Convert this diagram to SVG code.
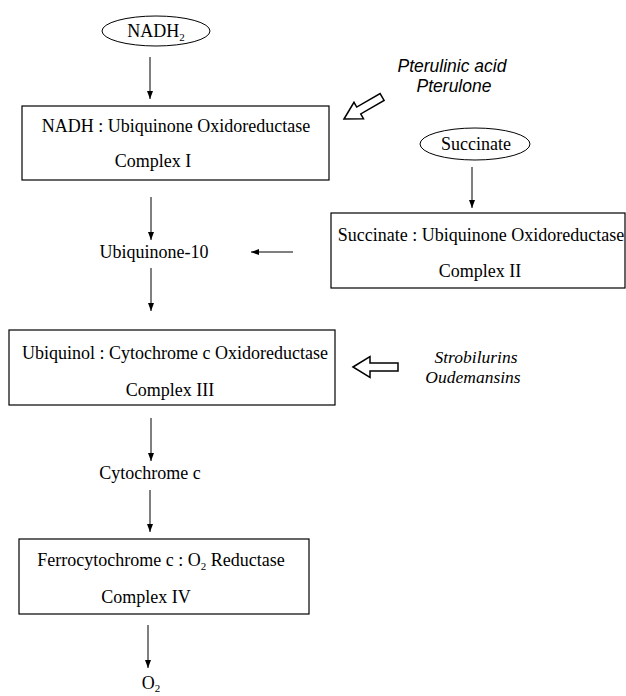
<svg xmlns="http://www.w3.org/2000/svg" width="626" height="696" viewBox="0 0 626 696">
<style>
  .bg { fill: #ffffff; }
  .box { fill: none; stroke: #000; stroke-width: 1.2; }
  .ell { fill: none; stroke: #000; stroke-width: 1; }
  .t { font-family: "Liberation Serif", "Times New Roman", serif; font-size: 18px; fill: #000; text-anchor: middle; }
  .ti { font-family: "Liberation Serif", "Times New Roman", serif; font-size: 17.5px; font-style: italic; fill: #000; text-anchor: middle; }
  .si { font-family: "Liberation Sans", Arial, sans-serif; font-size: 17.5px; font-style: italic; fill: #000; text-anchor: middle; }
  .sub { font-size: 11px; }
  .c { stroke: #000; stroke-width: 1; fill: none; marker-end: url(#ah); }
  .hollow { fill: #fff; stroke: #000; stroke-width: 1.5; stroke-linejoin: miter; }
</style>
<defs>
  <marker id="ah" markerWidth="8" markerHeight="6" refX="8" refY="3" orient="auto" markerUnits="userSpaceOnUse">
    <path d="M0,0 L8,3 L0,6 z" fill="#000"/>
  </marker>
</defs>
<rect class="bg" x="0" y="0" width="626" height="696"/>

<g id="nadh2">
  <ellipse class="ell" cx="156" cy="31" rx="54" ry="15"/>
  <text class="t" x="156" y="37">NADH<tspan class="sub" dy="4">2</tspan></text>
</g>

<g id="complex1">
  <rect class="box" x="22" y="106" width="307" height="74"/>
  <text class="t" x="176" y="132">NADH : Ubiquinone Oxidoreductase</text>
  <text class="t" x="153" y="167">Complex I</text>
</g>

<g id="pterulinic">
  <text class="si" x="452" y="72">Pterulinic acid</text>
  <text class="si" x="454" y="92">Pterulone</text>
  <polygon class="hollow" transform="translate(344,119) rotate(-30)" points="0,0 17,-9.5 17,-4 44,-4 44,4 17,4 17,9.5"/>
</g>

<g id="succinate">
  <ellipse class="ell" cx="475" cy="144" rx="55" ry="16"/>
  <text class="t" x="476" y="150">Succinate</text>
</g>

<g id="complex2">
  <rect class="box" x="331" y="213" width="294" height="75"/>
  <text class="t" x="481" y="241">Succinate : Ubiquinone Oxidoreductase</text>
  <text class="t" x="480" y="277">Complex II</text>
</g>

<g id="ubiquinone">
  <text class="t" x="154" y="258">Ubiquinone-10</text>
</g>

<g id="complex3">
  <rect class="box" x="9" y="330" width="326" height="75"/>
  <text class="t" x="175" y="359">Ubiquinol : Cytochrome c Oxidoreductase</text>
  <text class="t" x="170" y="396">Complex III</text>
</g>

<g id="strobilurins">
  <text class="ti" x="476" y="363">Strobilurins</text>
  <text class="ti" x="473" y="383">Oudemansins</text>
  <polygon class="hollow" transform="translate(353,367)" points="0,0 17,-10.5 17,-4 45,-4 45,4 17,4 17,10.5"/>
</g>

<g id="cytochrome">
  <text class="t" x="150" y="479">Cytochrome c</text>
</g>

<g id="complex4">
  <rect class="box" x="19" y="539" width="290" height="75"/>
  <text class="t" x="161" y="566">Ferrocytochrome c : O<tspan class="sub" dy="4">2</tspan><tspan dy="-4"> Reductase</tspan></text>
  <text class="t" x="146" y="603">Complex IV</text>
</g>

<g id="o2">
  <text class="t" x="151" y="689">O<tspan class="sub" dy="3">2</tspan></text>
</g>

<g id="connectors">
  <line class="c" x1="150" y1="57" x2="150" y2="99"/>
  <line class="c" x1="151" y1="197" x2="151" y2="240"/>
  <line class="c" x1="293" y1="252" x2="251" y2="252"/>
  <line class="c" x1="151" y1="268" x2="151" y2="311"/>
  <line class="c" x1="472" y1="167" x2="472" y2="208"/>
  <line class="c" x1="151" y1="418" x2="151" y2="461"/>
  <line class="c" x1="150" y1="490" x2="150" y2="532"/>
  <line class="c" x1="148" y1="625" x2="148" y2="668"/>
</g>
</svg>
